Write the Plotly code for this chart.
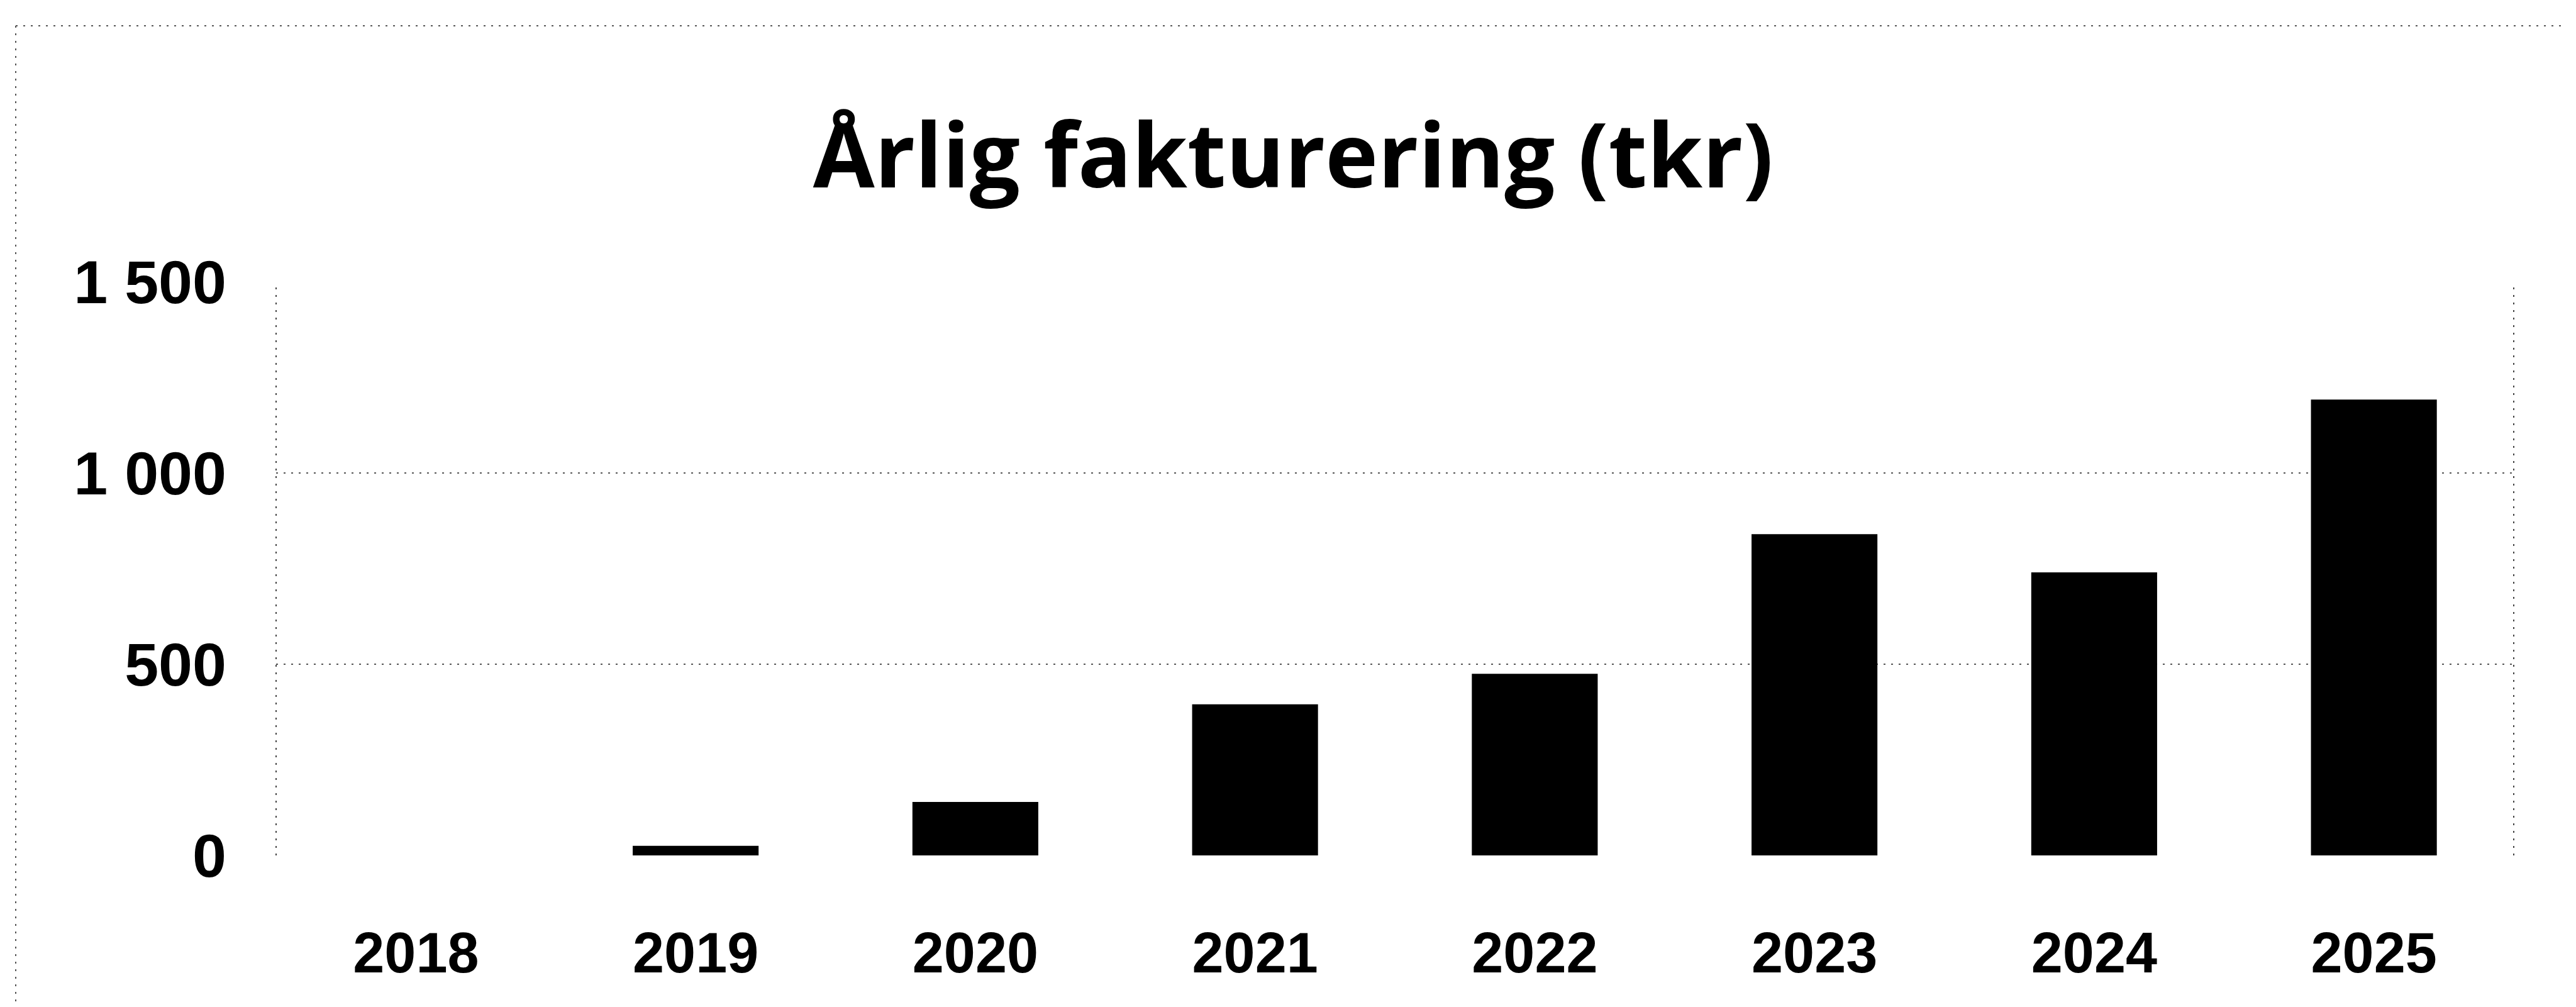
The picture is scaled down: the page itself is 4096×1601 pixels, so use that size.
import plotly.graph_objects as go

years = ["2018", "2019", "2020", "2021", "2022", "2023", "2024", "2025"]
values = [0, 25, 140, 395, 475, 840, 740, 1192]
y_tickvals = [0, 500, 1000, 1500]
y_ticktext = ["0", "500", "1 000", "1 500"]
title_text = "Årlig fakturering (tkr)"

W, H = 4096, 1601
L, R, T, B = 439, 99, 448, 241

fig = go.Figure()
fig.add_trace(go.Bar(
    x=years, y=values,
    marker=dict(color="#000000", line=dict(width=0)),
    hoverinfo="x+y",
))

grid_dash = "3px,9px"
fig.update_layout(
    width=W, height=H,
    margin=dict(l=L, r=R, t=T, b=B, pad=0),
    paper_bgcolor="white", plot_bgcolor="white",
    bargap=0.55,
    showlegend=False,
    title=dict(
        text=title_text,
        x=0.502, xref="container", xanchor="center",
        y=0.845, yref="container", yanchor="middle",
        font=dict(family="Open Sans", size=142, color="#000000", weight="bold"),
    ),
    xaxis=dict(
        type="category",
        showgrid=False, zeroline=False, showline=False,
        ticks="", ticklabelstandoff=95,
        tickfont=dict(family="Liberation Sans", size=90, color="#000000", weight="bold"),
    ),
    yaxis=dict(
        range=[0, 1500],
        tickvals=y_tickvals, ticktext=y_ticktext,
        showgrid=True, gridcolor="#555555", gridwidth=2, griddash=grid_dash,
        zeroline=False, showline=False,
        ticks="", ticklabelstandoff=78,
        tickfont=dict(family="Liberation Sans", size=97, color="#000000", weight="bold"),
    ),
)

# plot-area frame (left and right dotted edges)
for xp in (0, 1):
    fig.add_shape(type="line", xref="paper", yref="paper", x0=xp, x1=xp, y0=0, y1=1,
                  line=dict(color="#444444", width=2, dash=grid_dash), layer="below")

# outer page frame (top and left dotted edges)
px = lambda v: (v - L) / (W - L - R)
py = lambda v: (H - B - v) / (H - T - B)
fig.add_shape(type="line", xref="paper", yref="paper",
              x0=px(25), x1=px(4075), y0=py(41), y1=py(41),
              line=dict(color="#555555", width=2, dash=grid_dash))
fig.add_shape(type="line", xref="paper", yref="paper",
              x0=px(25), x1=px(25), y0=py(41), y1=py(1601),
              line=dict(color="#555555", width=2, dash=grid_dash))

fig.write_html("out.html", config={"displayModeBar": False},
               post_script="document.body.style.margin='0';document.body.style.overflow='hidden';")
